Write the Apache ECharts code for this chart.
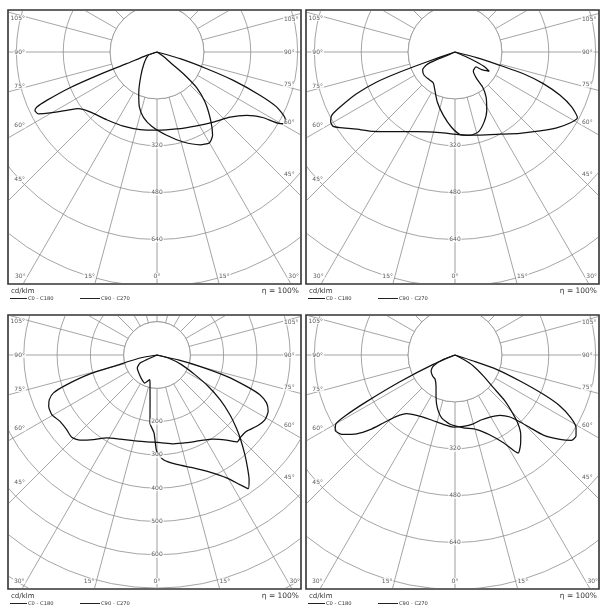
<!DOCTYPE html>
<html><head><meta charset="utf-8">
<script src="https://cdn.jsdelivr.net/npm/echarts@6/dist/echarts.min.js"></script>
<style>
html,body{margin:0;padding:0;background:#fff;}
.pn{position:absolute;overflow:hidden;}
</style>
</head><body>
<div id="bg" style="position:absolute;left:0;top:0;width:601px;height:609px;"></div>
<div id="p0" class="pn"></div>
<div id="p1" class="pn"></div>
<div id="p2" class="pn"></div>
<div id="p3" class="pn"></div>
<script>
// ---- data: [gamma (deg, negative = left side), intensity cd/klm] ----
const TL_C0 = [[-90,0],[-72,37],[-69,111],[-68.6,209],[-67.7,321],[-66.3,411],[-65.4,451],[-64.4,462],[-62.5,457],[-60.3,420],[-57.1,367],[-54.2,331],[-48.2,307],[-36.6,288],[-24.4,278],[-12.3,271],[0,267],[14.3,271],[28.3,286],[38.8,307],[48.3,334],[54.8,375],[58.3,427],[59.8,486],[61,501],[62.8,491],[65.3,450],[67.2,381],[69.6,278],[71.4,179],[73.8,82],[90,0]];
const TL_C90 = [[-90,0],[-69,32],[-48,60],[-33.2,102],[-23.7,155],[-17.8,197],[-11.9,227],[-4.1,254],[6.6,286],[16.3,320],[24.9,349],[29.9,358],[33.7,342],[38.1,297],[43.8,237],[48,182],[50.2,124],[51.5,64],[55.6,26],[90,0]];
const TR_C0 = [[-90,0],[-70.6,103],[-70,200],[-69,286],[-67,365],[-64.4,435],[-62.8,473],[-60.6,487],[-58.6,487],[-56.7,470],[-51.9,426],[-45.8,389],[-37.7,344],[-25.7,302],[-10.5,280],[3.5,283],[16.8,296],[28.7,320],[38.6,355],[47.1,396],[53.3,433],[58.3,461],[61.8,474],[64.8,440],[67.6,388],[70.3,320],[72.4,245],[73.5,160],[75.3,76],[90,0]];
const TR_C90 = [[90,0],[66.8,43],[65.2,81],[63.4,114],[60.6,134],[56.5,109],[54.5,88],[44,90],[39.1,117],[38.3,152],[34.6,187],[28.5,227],[22.5,259],[16.3,284],[10.2,289],[3.5,282],[-2.5,258],[-10.4,220],[-19.5,181],[-27.6,148],[-35,129],[-42.9,129],[-53,132],[-61.3,126],[-65.9,106],[-67.3,68],[-66.3,31],[-90,0]];
const BL_C0 = [[-90,0],[-80,52],[-75.6,125],[-74.2,209],[-71.8,285],[-69.9,331],[-67.5,350],[-64.6,360],[-60.5,363],[-55.6,353],[-50.4,352],[-46,356],[-42.1,345],[-36.9,318],[-31.2,291],[-23.7,276],[-15.4,267],[-6.8,263],[2,263],[10.4,271],[18.7,278],[26.7,288],[33.7,304],[39.2,330],[42.7,355],[45.5,352],[49.6,353],[54.4,368],[59.1,378],[63.2,374],[66.4,359],[68.9,331],[70.7,285],[73,219],[75.2,133],[76.9,71],[90,0]];
const BL_C90 = [[-90,0],[-65.7,34],[-64.8,56],[-56.5,71],[-41.9,79],[-31,87],[-23.8,92],[-20.2,84],[-16.6,77],[-14,87],[-8,150],[-5.9,205],[-2.2,234],[-0.2,289],[3.5,315],[10.2,334],[17.8,356],[24.3,386],[29.5,424],[32.6,462],[34.3,486],[36.5,465],[38.7,435],[41.4,399],[44.7,357],[47.2,326],[50.7,283],[54.7,232],[58.6,180],[62.6,128],[68.6,79],[75.2,35],[90,0]];
const BR_C0 = [[-90,0],[-66.7,81],[-64.1,209],[-62.2,341],[-61,429],[-60,469],[-57.8,483],[-55,472],[-51.3,430],[-48.7,386],[-46.5,337],[-43.6,289],[-39.5,259],[-32.4,244],[-21.2,236],[-9.6,240],[-1.3,246],[6.7,245],[14.9,243],[22.4,239],[29.4,243],[36.7,257],[41.6,283],[43.8,312],[45.9,356],[47.8,407],[51.2,460],[53.8,493],[56.2,497],[59,482],[61.6,449],[64.1,398],[66,330],[68.2,239],[71,150],[71.9,66],[90,0]];
const BR_C90 = [[-90,0],[-69.6,42],[-63.1,83],[-56.3,98],[-46.8,105],[-39.4,107],[-31.5,124],[-24,159],[-18.5,190],[-12,219],[-4.1,237],[6.5,250],[16.2,265],[23.6,298],[28.9,342],[31.5,381],[32.9,398],[36.3,378],[39.6,352],[42.4,320],[44.5,284],[47.4,232],[49.6,172],[53.5,120],[59,73],[62.5,32],[90,0]];

const TOP_RING_LABELS = [320, 480, 640];
const BL_RING_LABELS = [200, 300, 400, 500, 600];
const SIDE_ANGLES = [105, 90, 75, 60, 45];
const BOTTOM_ANGLES = [-30, -15, 0, 15, 30];
const LEGEND_NAMES = ['C0 - C180', 'C90 - C270'];
const UNIT_TEXT = 'cd/klm';
const ETA_TEXT = '\u03b7 = 100%';

// ---- layout ----
const FONT = 'DejaVu Sans';
const GRID = '#8e8e8e';
const panels = [
  {id:'p0', frame:[8,10,301,284], center:[157,52], unit:0.293, step:160, max:960, rings:TOP_RING_LABELS, c0:TL_C0, c90:TL_C90},
  {id:'p1', frame:[306,10,599,284], center:[455,52], unit:0.293, step:160, max:960, rings:TOP_RING_LABELS, c0:TR_C0, c90:TR_C90},
  {id:'p2', frame:[8,315,301,589], center:[157,355], unit:0.333, step:100, max:900, rings:BL_RING_LABELS, c0:BL_C0, c90:BL_C90},
  {id:'p3', frame:[306,315,599,589], center:[455,355], unit:0.293, step:160, max:960, rings:TOP_RING_LABELS, c0:BR_C0, c90:BR_C90}
];

// ---- background: frames + texts ----
const bgGraphic = [];
panels.forEach(p => {
  const [x0,y0,x1,y1] = p.frame;
  bgGraphic.push({type:'rect', shape:{x:x0, y:y0, width:x1-x0, height:y1-y0}, style:{fill:'none', stroke:'#333', lineWidth:1.6}});
  bgGraphic.push({type:'text', x:x0+3, y:y1+7, style:{text:UNIT_TEXT, fontSize:7, fontFamily:FONT, fill:'#333', align:'left', verticalAlign:'middle'}});
  bgGraphic.push({type:'text', x:x1-2, y:y1+7, style:{text:ETA_TEXT, fontSize:7.5, fontFamily:FONT, fill:'#333', align:'right', verticalAlign:'middle'}});
  const ly = y1 + 14.5;
  [[x0+2, x0+19], [x0+72, x0+92]].forEach((seg, i) => {
    bgGraphic.push({type:'line', shape:{x1:seg[0], y1:ly, x2:seg[1], y2:ly}, style:{stroke:'#222', lineWidth:1}});
    bgGraphic.push({type:'text', x:seg[1]+1, y:ly, style:{text:LEGEND_NAMES[i], fontSize:5.2, fontFamily:FONT, fill:'#333', align:'left', verticalAlign:'middle'}});
  });
});
const bg = echarts.init(document.getElementById('bg'));
bg.setOption({animation:false, backgroundColor:'#fff', graphic:bgGraphic});

// ---- panels ----
const toPolar = arr => arr.map(([g, cd]) => [cd, g]);
panels.forEach(p => {
  const [x0,y0,x1,y1] = p.frame;
  const left = x0 + 1, top = y0 + 1, w = x1 - x0 - 2, h = y1 - y0 - 2;
  const el = document.getElementById(p.id);
  Object.assign(el.style, {left:left+'px', top:top+'px', width:w+'px', height:h+'px'});
  const cx = p.center[0], cy = p.center[1];

  // angle labels anchored where the rays meet an inner rectangle
  const angLabels = [];
  SIDE_ANGLES.forEach(g => {
    const s = Math.sin(g*Math.PI/180);
    const dl = cx - (x0 + 22), dr = (x1 - 22) - cx;
    angLabels.push({value:[dl/s/p.unit, -g], name:g+'\u00b0', label:{position:'left', distance:4}});
    angLabels.push({value:[dr/s/p.unit, g], name:g+'\u00b0', label:{position:'right', distance:4}});
  });
  BOTTOM_ANGLES.forEach(g => {
    const dy = (y1 - 8) - cy;
    const r = dy / Math.cos(g*Math.PI/180) / p.unit;
    angLabels.push({value:[r, g], name:Math.abs(g)+'\u00b0', label:{position: g<0 ? 'left' : (g>0 ? 'right' : 'inside'), distance:1}});
  });
  const ringLabels = p.rings.map(v => ({value:[v, 0], name:String(v)}));

  const chart = echarts.init(el);
  chart.setOption({
    animation:false,
    polar:{center:[cx-left, cy-top], radius:p.max*p.unit},
    angleAxis:{type:'value', min:-180, max:180, interval:15, startAngle:90, clockwise:false,
      axisLine:{show:false}, axisTick:{show:false}, axisLabel:{show:false},
      splitLine:{show:true, lineStyle:{color:GRID, width:0.8}}},
    radiusAxis:{type:'value', min:0, max:p.max, interval:p.step,
      axisLine:{show:false}, axisTick:{show:false}, axisLabel:{show:false},
      splitLine:{show:true, lineStyle:{color:GRID, width:0.8}}},
    series:[
      {type:'line', coordinateSystem:'polar', z:1, silent:true, symbol:'none',
        data:[[p.step,0],[p.max,0]], lineStyle:{color:'#cfcfcf', width:1.6}},
      {type:'custom', coordinateSystem:'polar', z:2, silent:true, data:[[0,0]],
        renderItem:(params, api) => {
          const c = api.coord([0,0]); const e = api.coord([p.step,0]);
          const r = Math.hypot(e[0]-c[0], e[1]-c[1]);
          return {type:'circle', shape:{cx:c[0], cy:c[1], r:r}, style:{fill:'#fff', stroke:GRID, lineWidth:0.8}};
        }},
      {type:'line', name:LEGEND_NAMES[0], coordinateSystem:'polar', z:3, symbol:'none', smooth:0.2,
        data:toPolar(p.c0), lineStyle:{color:'#111', width:1.25}},
      {type:'line', name:LEGEND_NAMES[1], coordinateSystem:'polar', z:3, symbol:'none', smooth:0.2,
        data:toPolar(p.c90), lineStyle:{color:'#111', width:1.25}},
      {type:'scatter', coordinateSystem:'polar', z:4, silent:true, symbolSize:0, data:ringLabels,
        label:{show:true, position:'inside', formatter:'{b}', fontSize:6, fontFamily:FONT, color:'#333', backgroundColor:'#fff', padding:[0,1]}},
      {type:'scatter', coordinateSystem:'polar', z:4, silent:true, symbolSize:0, data:angLabels,
        label:{show:true, formatter:'{b}', fontSize:6, fontFamily:FONT, color:'#333', backgroundColor:'#fff', padding:[0,1]}}
    ]
  });
});
</script>
</body></html>
